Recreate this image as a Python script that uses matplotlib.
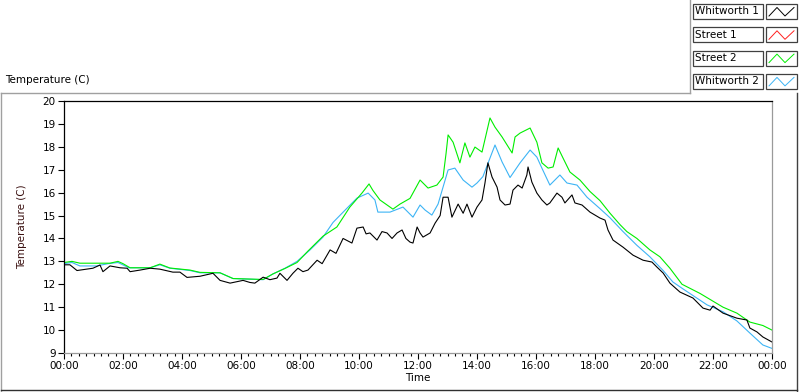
import matplotlib

matplotlib.use("Agg")
import matplotlib.pyplot as plt
from matplotlib.lines import Line2D
from matplotlib.patches import Rectangle
from matplotlib.ticker import MultipleLocator, FuncFormatter

# ---- data (hours since midnight, deg C) ----
street2_t = [0.0, 0.27, 0.54, 1.56, 1.83, 2.0, 2.24, 2.92, 3.25, 3.59, 4.27, 4.61,
             5.29, 5.73, 6.75, 7.08, 7.49, 7.9, 8.27, 8.78, 9.25, 9.69, 10.1, 10.34,
             10.47, 10.71, 11.15, 11.39, 11.73, 12.07, 12.34, 12.64, 12.85, 12.95,
             13.02, 13.19, 13.42, 13.59, 13.76, 13.93, 14.17, 14.44, 14.61, 14.85,
             15.19, 15.29, 15.46, 15.8, 16.03, 16.2, 16.41, 16.58, 16.75, 16.92,
             17.15, 17.49, 17.83, 18.17, 18.51, 18.85, 19.08, 19.42, 19.86, 20.2,
             20.54, 20.95, 21.56, 22.34, 22.81, 23.25, 23.69, 24.0]
street2_v = [12.95, 13.0, 12.92, 12.92, 13.0, 12.9, 12.72, 12.72, 12.88, 12.71, 12.62, 12.52,
             12.5, 12.25, 12.21, 12.45, 12.69, 12.95, 13.45, 14.1, 14.5, 15.37, 15.98, 16.38,
             16.1, 15.68, 15.28, 15.5, 15.75, 16.55, 16.2, 16.33, 16.68, 17.7,
             18.52, 18.2, 17.3, 18.17, 17.55, 17.99, 17.77, 19.26, 18.86, 18.43,
             17.73, 18.43, 18.6, 18.82, 18.2, 17.3, 17.07, 17.12, 17.95, 17.5,
             16.9, 16.55, 16.05, 15.65, 15.1, 14.6, 14.3, 14.0, 13.5, 13.2,
             12.7, 12.0, 11.6, 11.0, 10.74, 10.35, 10.2, 10.0]

whit2_t = [0.0, 0.27, 0.54, 1.1, 1.5, 1.83, 2.2, 2.92, 3.25, 3.59, 4.27, 4.61,
           5.29, 5.73, 6.75, 7.08, 7.49, 7.9, 8.34, 8.78, 9.12, 9.63, 9.93, 10.31,
           10.54, 10.64, 11.05, 11.49, 11.83, 12.07, 12.24, 12.47, 12.68, 13.02,
           13.25, 13.53, 13.83, 14.0, 14.2, 14.61, 14.85, 15.12, 15.46, 15.8,
           16.03, 16.2, 16.47, 16.81, 17.05, 17.39, 17.73, 18.17, 18.51, 18.95,
           19.42, 19.86, 20.31, 20.64, 20.98, 21.8, 22.34, 22.81, 23.25, 23.69, 24.0]
whit2_v = [12.9, 12.95, 12.8, 12.8, 12.9, 12.95, 12.72, 12.72, 12.85, 12.7, 12.6, 12.5,
           12.5, 12.25, 12.2, 12.45, 12.7, 13.0, 13.5, 14.06, 14.7, 15.37, 15.76, 15.98,
           15.68, 15.15, 15.15, 15.37, 14.93, 15.46, 15.24, 15.02, 15.5, 16.99,
           17.07, 16.55, 16.24, 16.42, 16.7, 18.08, 17.34, 16.66, 17.3, 17.86,
           17.55, 17.07, 16.33, 16.77, 16.42, 16.33, 15.8, 15.3, 14.9, 14.3,
           13.7, 13.2, 12.6, 12.1, 11.8, 11.1, 10.8, 10.4, 9.87, 9.35, 9.2]

whit1_t = [0.0, 0.2, 0.44, 0.71, 0.98, 1.22, 1.32, 1.56, 1.9, 2.14, 2.24, 2.58,
           2.92, 3.25, 3.69, 3.93, 4.17, 4.61, 5.05, 5.29, 5.63, 6.07, 6.3, 6.47,
           6.75, 6.98, 7.22, 7.32, 7.56, 7.76, 7.93, 8.1, 8.27, 8.58, 8.75, 9.02,
           9.22, 9.46, 9.76, 9.93, 10.14, 10.24, 10.37, 10.61, 10.78, 10.95, 11.12,
           11.29, 11.46, 11.59, 11.73, 11.83, 11.97, 12.07, 12.17, 12.41, 12.58,
           12.75, 12.85, 13.02, 13.15, 13.36, 13.53, 13.66, 13.83, 14.0, 14.17,
           14.27, 14.37, 14.51, 14.68, 14.78, 14.95, 15.12, 15.22, 15.39, 15.53,
           15.69, 15.73, 15.86, 16.03, 16.2, 16.37, 16.47, 16.71, 16.88, 16.98,
           17.22, 17.32, 17.56, 17.83, 18.17, 18.34, 18.44, 18.61, 18.95, 19.29,
           19.63, 19.93, 20.1, 20.31, 20.54, 20.88, 21.32, 21.66, 21.9, 22.0,
           22.34, 22.81, 23.15, 23.25, 23.49, 23.69, 24.0]
whit1_v = [12.85, 12.85, 12.6, 12.65, 12.7, 12.84, 12.55, 12.8, 12.72, 12.7, 12.55, 12.62,
           12.7, 12.66, 12.53, 12.53, 12.3, 12.35, 12.48, 12.17, 12.05, 12.17, 12.08, 12.05,
           12.31, 12.2, 12.27, 12.48, 12.17, 12.48, 12.7, 12.55, 12.62, 13.05, 12.9, 13.5,
           13.35, 14.0, 13.8, 14.45, 14.5, 14.2, 14.24, 13.93, 14.3, 14.24, 14.0,
           14.24, 14.37, 14.0, 13.84, 13.8, 14.5, 14.24, 14.06, 14.24, 14.67,
           15.0, 15.8, 15.8, 14.93, 15.5, 15.1, 15.5, 14.93, 15.37, 15.68,
           16.42, 17.3, 16.68, 16.24, 15.68, 15.46, 15.5, 16.11, 16.33, 16.2,
           16.77, 17.12, 16.46, 15.98, 15.68, 15.46, 15.55, 15.98, 15.8, 15.55,
           15.9, 15.55, 15.46, 15.15, 14.89, 14.8, 14.37, 13.93, 13.62, 13.27,
           13.05, 12.97, 12.75, 12.49, 12.05, 11.66, 11.4, 10.96, 10.87, 11.05,
           10.74, 10.52, 10.44, 10.09, 9.92, 9.7, 9.48]

legend_names = ["Whitworth 1", "Street 1", "Street 2", "Whitworth 2"]
legend_colors = ["black", "#ff2020", "#00ee00", "#3cb4f5"]

W, H = 800, 392
FONT = "DejaVu Sans"
FS = 7.5


def fx(px):
    return px / W


def fy(py):
    return 1 - py / H


fig = plt.figure(figsize=(W / 100, H / 100), dpi=100)
fig.patch.set_facecolor("white")

ax = fig.add_axes([fx(64), fy(353), fx(772) - fx(64), fy(101) - fy(353)])
ax.plot(whit2_t, whit2_v, color=legend_colors[3], lw=0.8)
ax.plot(street2_t, street2_v, color=legend_colors[2], lw=0.8)
ax.plot(whit1_t, whit1_v, color=legend_colors[0], lw=0.8)

ax.set_xlim(0, 24)
ax.set_ylim(9, 20)
ax.xaxis.set_major_locator(MultipleLocator(2))
ax.xaxis.set_minor_locator(MultipleLocator(0.25))
ax.yaxis.set_major_locator(MultipleLocator(1))
ax.xaxis.set_major_formatter(FuncFormatter(lambda v, p: "%02d:00" % (int(round(v)) % 24)))
ax.tick_params(axis="both", which="major", direction="out", length=4, width=0.8,
               labelsize=FS, pad=2)
ax.tick_params(axis="x", which="minor", direction="out", length=2.5, width=0.8)
for lab in ax.get_xticklabels() + ax.get_yticklabels():
    lab.set_family(FONT)

ax.spines["left"].set_color("black")
ax.spines["top"].set_color("black")
ax.spines["right"].set_color("#9a9a9a")
ax.spines["bottom"].set_color("#9a9a9a")
for s in ax.spines.values():
    s.set_linewidth(0.9)

ax.set_xlabel("Time", fontsize=FS, family=FONT, labelpad=1)
fig.text(fx(22), fy(227), "Temperature (C)", rotation=90, ha="center", va="center",
         fontsize=FS, family=FONT, color="#3a1010")
fig.text(fx(5), fy(80), "Temperature (C)", ha="left", va="center", fontsize=FS, family=FONT)

# outer frame of the graph
frame_col = "#a0a0a0"
fig.add_artist(Line2D([fx(1), fx(690)], [fy(93), fy(93)], color=frame_col, lw=1))
fig.add_artist(Line2D([fx(1), fx(1)], [fy(93), fy(391)], color=frame_col, lw=1))
fig.add_artist(Line2D([fx(797), fx(797)], [fy(93), fy(391)], color="#404040", lw=1))
fig.add_artist(Line2D([fx(1), fx(797)], [fy(390), fy(390)], color="#303030", lw=1))
fig.add_artist(Line2D([fx(690), fx(690)], [fy(0), fy(93)], color=frame_col, lw=1))

# legend boxes
for i, (name, col) in enumerate(zip(legend_names, legend_colors)):
    top = 4 + i * 23.3
    fig.add_artist(Rectangle((fx(693), fy(top + 15)), fx(763) - fx(693), fy(top) - fy(top + 15),
                             facecolor="white", edgecolor="#404040", lw=0.9))
    fig.add_artist(Rectangle((fx(766), fy(top + 15)), fx(797) - fx(766), fy(top) - fy(top + 15),
                             facecolor="white", edgecolor="#404040", lw=0.9))
    fig.text(fx(695), fy(top + 7.5), name, ha="left", va="center", fontsize=FS, family=FONT)
    xs = [769, 777, 785, 794]
    ys = [top + 12, top + 3.5, top + 12, top + 3.5]
    fig.add_artist(Line2D([fx(v) for v in xs], [fy(v) for v in ys], color=col, lw=0.7))

fig.savefig("out.png", dpi=100, facecolor="white")
